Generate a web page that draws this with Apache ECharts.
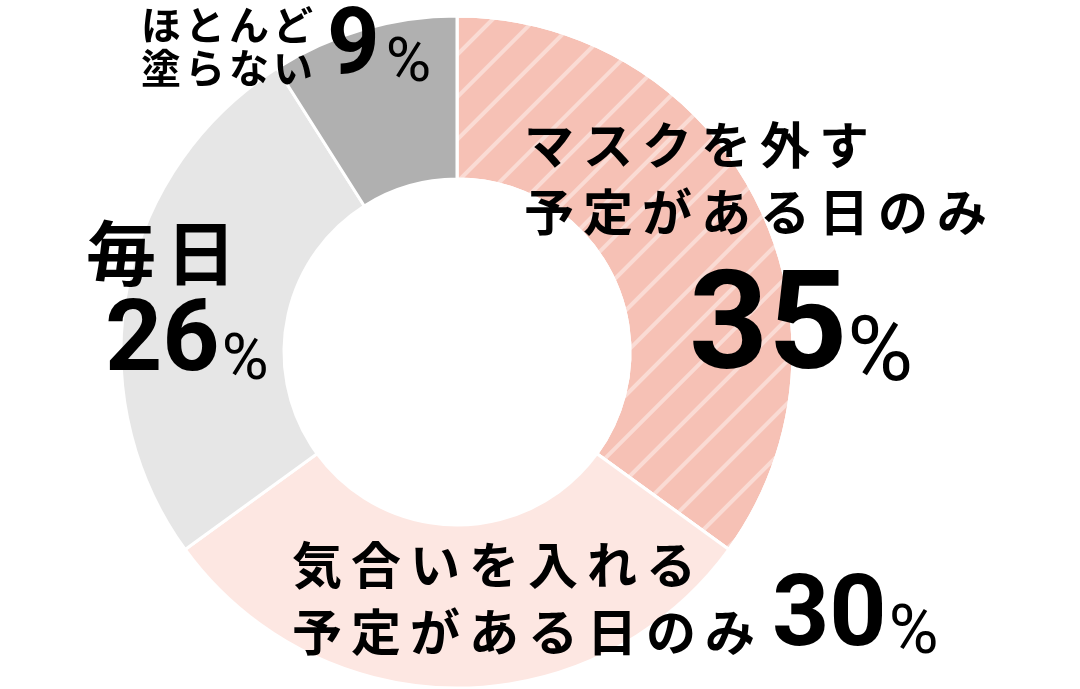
<!DOCTYPE html>
<html>
<head>
<meta charset="utf-8">
<script src="https://cdn.jsdelivr.net/npm/echarts@6/dist/echarts.min.js"></script>
<style>
  html, body { margin: 0; padding: 0; background: #fff; }
  #chart { width: 1080px; height: 689px; }
</style>
</head>
<body>
<div id="chart"></div>
<script>
// data
const categories = ['マスクを外す\n予定がある日のみ', '気合いを入れる\n予定がある日のみ', '毎日', 'ほとんど\n塗らない'];
const shares = [35, 30, 26, 9];
const colors = ['#f6c1b5', '#fde7e2', '#e6e6e6', '#b0b0b0'];

// label styles: [fontSize, lineHeight, letter gap]
const nameStyle = [[50, 67, 9], [50, 67, 9], [70, 70, 10], [40, 43, 4]];
const namePos = [[524, 111], [292, 531], [86, 218], [141, 3]];
// numbers: [digit font, % font, gap before %]
const numStyle = [[138, 90, 0], [100, 68, 2], [100, 64, 2], [92, 62, 6]];
const numPos = [[689, 264], [772, 570], [105, 295], [327, 4]];

const JP = "'Noto Sans CJK JP', 'Noto Sans CJK SC', sans-serif";
const NUM = "Roboto, 'Liberation Sans', sans-serif";

const nameRich = {};
const numRich = {};
nameStyle.forEach(function (s, i) {
  nameRich['s' + i] = { fontFamily: JP, fontWeight: 'bold', fontSize: s[0], lineHeight: s[1], color: '#000' };
  nameRich['g' + i] = { fontFamily: JP, fontSize: s[0], lineHeight: s[1], width: s[2] };
});
numStyle.forEach(function (s, i) {
  const F = s[0], f = s[1];
  numRich['n' + i] = { fontFamily: NUM, fontWeight: 'bold', fontSize: F, lineHeight: F, color: '#000' };
  numRich['p' + i] = {
    fontFamily: NUM, fontWeight: 'normal', fontSize: f, color: '#000',
    lineHeight: Math.round(F - 0.683 * (F - f)), verticalAlign: 'bottom',
    padding: [0, 0, 0, s[2]]
  };
});

function spaced(line, i) {
  return line.split('').map(function (c) { return '{s' + i + '|' + c + '}'; }).join('{g' + i + '| }');
}

const pieData = categories.map(function (name, i) {
  return { name: name, value: shares[i], itemStyle: { color: colors[i] } };
});
// the striped slice
pieData[0].itemStyle.decal = {
  symbol: 'rect',
  symbolSize: 1,
  color: 'rgba(255,255,255,0.42)',
  dashArrayX: [1, 0],
  dashArrayY: [4, 26],
  rotation: -Math.PI / 4
};

const chart = echarts.init(document.getElementById('chart'), null, { renderer: 'canvas' });

chart.setOption({
  backgroundColor: '#fff',
  animation: false,
  series: [
    {
      type: 'pie',
      center: [457, 352],
      radius: [173, 336],
      startAngle: 90,
      clockwise: true,
      avoidLabelOverlap: false,
      silent: true,
      itemStyle: { borderColor: '#fff', borderWidth: 3 },
      label: {
        show: true,
        position: 'outside',
        formatter: function (p) {
          return p.name.split('\n').map(function (l) { return spaced(l, p.dataIndex); }).join('\n');
        },
        rich: nameRich
      },
      labelLine: { show: false },
      labelLayout: function (p) {
        const pos = namePos[p.dataIndex];
        return { x: pos[0], y: pos[1], align: 'left', verticalAlign: 'top' };
      },
      data: pieData
    },
    {
      // transparent copy carrying the percentage labels
      type: 'pie',
      center: [457, 352],
      radius: [173, 336],
      startAngle: 90,
      clockwise: true,
      avoidLabelOverlap: false,
      silent: true,
      z: 3,
      itemStyle: { color: 'rgba(0,0,0,0)', borderWidth: 0 },
      label: {
        show: true,
        position: 'outside',
        formatter: function (p) {
          return '{n' + p.dataIndex + '|' + p.value + '}{p' + p.dataIndex + '|%}';
        },
        rich: numRich
      },
      labelLine: { show: false },
      labelLayout: function (p) {
        const pos = numPos[p.dataIndex];
        return { x: pos[0], y: pos[1], align: 'left', verticalAlign: 'top' };
      },
      data: categories.map(function (name, i) { return { name: name, value: shares[i] }; })
    }
  ]
});
</script>
</body>
</html>
